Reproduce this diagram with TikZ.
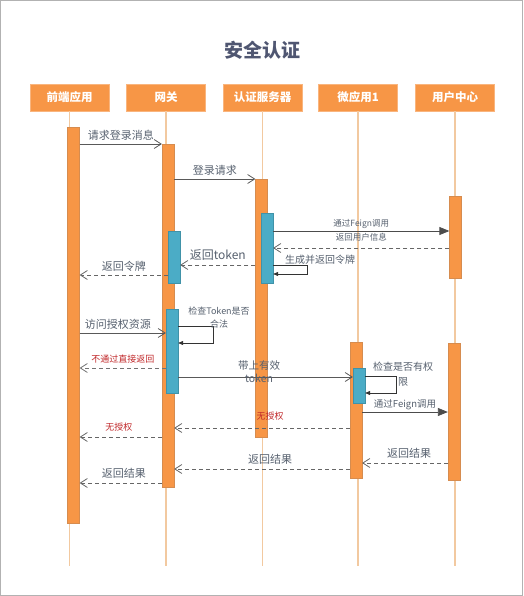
\documentclass[tikz,border=0pt]{standalone}
\usepackage{fontspec}
\setmainfont{Noto Sans CJK SC}
\usetikzlibrary{arrows.meta}
\definecolor{barorange}{HTML}{F79646}
\definecolor{barblue}{HTML}{4BACC6}
\definecolor{lifetan}{HTML}{F2C9A0}
\definecolor{msgtext}{HTML}{56606E}
\definecolor{titletext}{HTML}{4F5671}
\definecolor{denyred}{HTML}{C0282A}
\begin{document}
\begin{tikzpicture}[x=1pt,y=-1pt,
    head/.style={fill=barorange,draw=barorange!70,text=white,font=\bfseries\fontsize{11.5}{12}\selectfont,
      minimum width=79pt,minimum height=27pt,inner sep=0pt},
    life/.style={lifetan,line width=1.2pt},
    actbar/.style={fill=barorange,draw=barorange!85!black!90,line width=0.3pt,minimum width=12pt,inner sep=0pt},
    chkbar/.style={fill=barblue,draw=barblue!85!black,line width=0.3pt,minimum width=12pt,inner sep=0pt},
    msg/.style={draw=black!65,line width=0.8pt,-{Straight Barb[length=7pt,width=9pt]}},
    call/.style={draw=black!70,line width=0.8pt,-{Triangle[length=10pt,width=8pt]}},
    self/.style={draw=black!80,line width=0.8pt,-{Triangle[length=5pt,width=4pt]}},
    ret/.style={draw=black!60,line width=0.8pt,dash pattern=on 4pt off 3pt,-{Straight Barb[length=7pt,width=9pt]}},
    lbl/.style={text=msgtext,font=\fontsize{11}{12}\selectfont,inner sep=1pt},
    small/.style={text=msgtext,font=\fontsize{8.5}{12}\selectfont,inner sep=1pt,align=center},
    deny/.style={text=denyred,font=\fontsize{9}{10}\selectfont,inner sep=1pt}]
  \useasboundingbox (0,0) rectangle (523,596);
  \draw[black!30,line width=1.2pt] (0.6,0.6) rectangle (522.4,595.4);
  \node[text=titletext,font=\bfseries\fontsize{19}{20}\selectfont] (title) at (262,50) {安全认证};
  % heads and lifelines
  \node[head] (hFront) at (69.5,97.5) {前端应用};
  \node[head] (hGate) at (166,97.5) {网关};
  \node[head] (hAuth) at (262.5,97.5) {认证服务器};
  \node[head] (hMicro) at (358,97.5) {微应用1};
  \node[head] (hUser) at (455,97.5) {用户中心};
  \foreach \h in {hFront,hGate,hAuth,hMicro,hUser}
    \draw[life] (\h.south) -- (\h.south |- 0,566);
  % activation bars
  \node[actbar,minimum height=396pt] (bFront) at (73.5,325) {};
  \node[actbar,minimum height=343pt] (bGate) at (168,315.5) {};
  \node[chkbar,minimum height=52pt] (bGateChkA) at (174,257) {};
  \node[chkbar,minimum height=84pt] (bGateChkB) at (172,351) {};
  \node[actbar,minimum height=258pt] (bAuth) at (261.5,308) {};
  \node[chkbar,minimum height=70pt] (bAuthChk) at (267,248) {};
  \node[actbar,minimum height=82pt] (bUserA) at (455.5,237) {};
  \node[actbar,minimum height=137pt] (bUserB) at (454,411.5) {};
  \node[actbar,minimum height=136pt] (bMicro) at (356,410) {};
  \node[chkbar,minimum height=35pt] (bMicroChk) at (359,385.5) {};
  % login
  \draw[msg] (bFront.east |- 0,144) -- node[lbl,above=2pt] (l1) {请求登录消息} (bGate.west |- 0,144);
  \draw[msg] (bGate.east |- 0,179) -- node[lbl,above=2pt] (l2) {登录请求} (bAuth.west |- 0,179);
  \draw[call] (bAuthChk.east |- 0,231) -- node[small,above=1pt] (l3) {通过Feign调用} (bUserA.west |- 0,231);
  \draw[ret] (bUserA.west |- 0,248) -- node[small,above=5pt] (l4) {返回用户信息} (bAuthChk.east |- 0,248);
  \draw[self] (bAuthChk.east |- 0,265) -| (307,274) -- (bAuthChk.east |- 0,274);
  \node[small,font=\fontsize{10}{12}\selectfont] (l5) at (320,260) {生成并返回令牌};
  \draw[ret] (bAuth.west |- 0,265) -- node[lbl,font=\fontsize{12}{12}\selectfont,above=3pt] (l6) {返回token} (bGateChkA.east |- 0,265);
  \draw[ret] (bGateChkA.west |- 0,275) -- node[lbl,above=2pt] (l7) {返回令牌} (bFront.east |- 0,275);
  % access
  \draw[msg] (bFront.east |- 0,333) -- node[lbl,above=2pt,xshift=-5pt] (l8) {访问授权资源} (bGateChkB.west |- 0,333);
  \draw[self] (bGateChkB.east |- 0,326) -| (213,343) -- (bGateChkB.east |- 0,343);
  \node[small,font=\fontsize{9}{13}\selectfont] (l9) at (219,317.5) {检查Token是否\\合法};
  \draw[ret,draw=black!55] (bGateChkB.west |- 0,368) -- node[deny,above=3pt] (l10) {不通过直接返回} (bFront.east |- 0,368);
  \draw[msg] (bGateChkB.east |- 0,377) -- (bMicroChk.west |- 0,377);
  \node[small,font=\fontsize{10.5}{13}\selectfont] (l11) at (259,371.5) {带上有效\\token};
  \draw[self] (bMicroChk.east |- 0,376) -| (396,393) -- (bMicroChk.east |- 0,393);
  \node[small,font=\fontsize{10}{15}\selectfont] (l12) at (403,374.5) {检查是否有权\\限};
  \draw[call] (bMicro.east |- 0,412) -- node[small,font=\fontsize{9.5}{12}\selectfont,above=1pt] (l13) {通过Feign调用} (bUserB.west |- 0,412);
  % deny and results
  \draw[ret] (bMicro.west |- 0,428) -- (bGate.east |- 0,428);
  \node[deny] (l14) at (270,416) {无授权};
  \draw[ret] (bGate.west |- 0,437) -- node[deny,above=4pt,xshift=-2pt] (l15) {无授权} (bFront.east |- 0,437);
  \draw[ret] (bUserB.west |- 0,463) -- node[lbl,above=3pt,xshift=4pt] (l16) {返回结果} (bMicro.east |- 0,463);
  \draw[ret] (bMicro.west |- 0,469) -- node[lbl,above=3pt,xshift=8pt] (l17) {返回结果} (bGate.east |- 0,469);
  \draw[ret] (bGate.west |- 0,483) -- node[lbl,above=3pt,xshift=3pt] (l18) {返回结果} (bFront.east |- 0,483);
\end{tikzpicture}
\end{document}
